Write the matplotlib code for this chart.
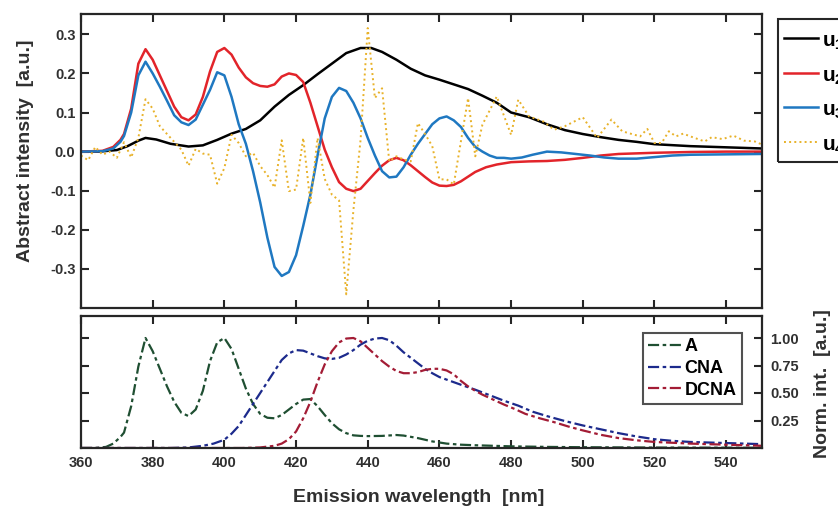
import matplotlib
matplotlib.use("Agg")
import matplotlib.pyplot as plt
from matplotlib.patches import Rectangle

plt.rcParams["font.family"] = ["Liberation Sans", "DejaVu Sans"]
plt.rcParams["font.weight"] = "bold"
plt.rcParams["axes.unicode_minus"] = False
plt.rcParams["mathtext.fontset"] = "custom"
plt.rcParams["mathtext.rm"] = "Liberation Sans:bold"
plt.rcParams["mathtext.bf"] = "Liberation Sans:bold"
plt.rcParams["mathtext.default"] = "rm"

# ---- abstract spectra (SVD components) ----
wl_u1 = [360, 365, 370, 373, 376, 378, 381, 385, 390, 394, 398, 402, 406, 410, 414,
         418, 422, 426, 430, 434, 438, 441, 444, 448, 452, 456, 460, 464, 468, 472,
         476, 480, 485, 490, 495, 500, 505, 510, 515, 520, 530, 540, 550]
u1 = [0.0, 0.0, 0.004, 0.014, 0.028, 0.035, 0.031, 0.02, 0.013, 0.016, 0.03, 0.046,
      0.058, 0.08, 0.115, 0.145, 0.17, 0.198, 0.225, 0.252, 0.265, 0.265, 0.255,
      0.235, 0.212, 0.195, 0.184, 0.172, 0.16, 0.143, 0.125, 0.1, 0.088, 0.07,
      0.055, 0.045, 0.037, 0.03, 0.025, 0.019, 0.014, 0.011, 0.008]

wl_u2 = [360, 366, 369, 371, 372, 374, 376, 378, 380, 382, 384, 386, 388, 390, 392,
         394, 396, 398, 400, 402, 404, 406, 408, 410, 412, 414, 416, 418, 420, 422,
         424, 426, 428, 430, 432, 434, 436, 438, 440, 442, 444, 446, 448, 450, 452,
         454, 456, 458, 460, 462, 464, 466, 468, 470, 473, 476, 480, 485, 490, 495,
         500, 505, 510, 520, 530, 540, 550]
u2 = [0.0, 0.002, 0.012, 0.03, 0.045, 0.11, 0.225, 0.262, 0.235, 0.195, 0.155, 0.115,
      0.088, 0.08, 0.095, 0.14, 0.205, 0.255, 0.265, 0.248, 0.215, 0.19, 0.175,
      0.168, 0.166, 0.172, 0.192, 0.2, 0.196, 0.178, 0.125, 0.065, 0.005, -0.04,
      -0.078, -0.095, -0.101, -0.095, -0.075, -0.055, -0.036, -0.022, -0.016,
      -0.022, -0.035, -0.05, -0.065, -0.079, -0.087, -0.088, -0.085, -0.076,
      -0.064, -0.052, -0.04, -0.033, -0.027, -0.025, -0.024, -0.021, -0.016,
      -0.01, -0.006, -0.003, -0.001, 0.0, 0.0]

wl_u3 = [360, 366, 369, 371, 372, 374, 376, 378, 380, 382, 384, 386, 388, 390, 392,
         394, 396, 398, 400, 402, 404, 406, 408, 410, 412, 414, 416, 418, 420, 422,
         424, 426, 428, 430, 432, 434, 436, 438, 440, 442, 444, 446, 448, 450, 452,
         454, 456, 458, 460, 462, 464, 466, 468, 470, 472, 474, 476, 478, 480, 483,
         486, 490, 494, 498, 502, 506, 510, 515, 520, 525, 530, 540, 550]
u3 = [0.0, 0.001, 0.008, 0.025, 0.04, 0.1, 0.195, 0.23, 0.2, 0.166, 0.13, 0.093,
      0.075, 0.068, 0.082, 0.12, 0.158, 0.203, 0.195, 0.14, 0.07, 0.02, -0.05,
      -0.13, -0.22, -0.295, -0.318, -0.308, -0.265, -0.19, -0.11, -0.01, 0.085,
      0.14, 0.163, 0.155, 0.125, 0.085, 0.035, -0.01, -0.05, -0.066, -0.064,
      -0.04, -0.008, 0.02, 0.045, 0.07, 0.085, 0.09, 0.08, 0.063, 0.035, 0.012,
      0.0, -0.01, -0.016, -0.016, -0.018, -0.015, -0.008, 0.0, -0.002, -0.006,
      -0.01, -0.015, -0.018, -0.018, -0.014, -0.01, -0.008, -0.007, -0.006]

wl_u4 = [360, 362, 364, 366, 368, 370, 372, 374, 376, 378, 380, 382, 384, 386, 388,
         390, 392, 394, 396, 398, 400, 402, 404, 406, 408, 410, 412, 414, 416, 418,
         420, 422, 424, 426, 428, 430, 432, 434, 436, 438, 440, 442, 444, 446, 448,
         450, 452, 454, 456, 458, 460, 462, 464, 468, 470, 472, 476, 480, 482, 485,
         489, 492, 495, 500, 504, 508, 511, 516, 518, 520, 522, 524, 526, 528, 530,
         534, 536, 539, 542, 545, 548, 550]
u4 = [-0.01, -0.022, 0.012, -0.008, 0.0, -0.016, 0.024, -0.015, 0.035, 0.134, 0.11,
      0.065, 0.045, 0.025, 0.005, -0.036, 0.007, -0.005, -0.008, -0.082, -0.042,
      0.043, 0.022, -0.012, -0.003, -0.037, -0.06, -0.092, 0.029, -0.101, -0.097,
      0.035, -0.131, 0.035, -0.07, -0.11, -0.125, -0.365, -0.15, 0.03, 0.316, 0.137,
      0.162, -0.025, -0.012, -0.02, -0.025, 0.073, 0.045, 0.014, -0.071, -0.071,
      -0.084, 0.137, -0.012, 0.069, 0.141, 0.043, 0.133, 0.09, 0.077, 0.056, 0.065,
      0.088, 0.035, 0.082, 0.052, 0.039, 0.058, 0.022, 0.022, 0.052, 0.039, 0.046,
      0.039, 0.026, 0.037, 0.032, 0.041, 0.028, 0.026, 0.018]

# ---- normalised reference emission spectra ----
wl_A = [360, 364, 367, 369, 371, 372, 374, 376, 378, 380, 382, 384, 386, 388, 390,
        392, 394, 396, 398, 400, 402, 404, 406, 408, 410, 412, 414, 416, 418, 420,
        422, 424, 426, 428, 430, 432, 434, 436, 438, 440, 444, 448, 450, 454, 458,
        462, 466, 470, 480, 490, 500, 520, 550]
spec_A = [0.0, 0.0, 0.01, 0.04, 0.1, 0.14, 0.38, 0.74, 1.0, 0.88, 0.72, 0.56, 0.42,
          0.32, 0.29, 0.35, 0.52, 0.79, 0.96, 1.0, 0.9, 0.72, 0.54, 0.4, 0.31, 0.275,
          0.27, 0.3, 0.35, 0.4, 0.44, 0.445, 0.38, 0.3, 0.225, 0.17, 0.135, 0.115,
          0.11, 0.108, 0.11, 0.118, 0.113, 0.09, 0.06, 0.04, 0.03, 0.025, 0.015, 0.01,
          0.007, 0.004, 0.002]

wl_CNA = [360, 385, 390, 394, 397, 400, 402, 404, 406, 408, 410, 412, 414, 416, 418,
          420, 422, 424, 426, 428, 430, 432, 434, 436, 438, 440, 442, 444, 446, 448,
          450, 452, 454, 456, 458, 460, 463, 466, 470, 474, 478, 482, 486, 490, 495,
          500, 505, 510, 515, 520, 525, 530, 540, 550]
spec_CNA = [0.0, 0.0, 0.005, 0.02, 0.04, 0.075, 0.13, 0.2, 0.3, 0.4, 0.5, 0.6, 0.7,
            0.8, 0.86, 0.89, 0.885, 0.86, 0.835, 0.815, 0.81, 0.82, 0.85, 0.89, 0.94,
            0.975, 0.995, 1.0, 0.98, 0.93, 0.87, 0.82, 0.77, 0.72, 0.68, 0.645, 0.61,
            0.575, 0.53, 0.48, 0.43, 0.385, 0.33, 0.29, 0.245, 0.205, 0.17, 0.135,
            0.105, 0.08, 0.065, 0.055, 0.045, 0.035]

wl_DCNA = [360, 405, 410, 414, 416, 418, 420, 422, 424, 426, 428, 430, 432, 434, 436,
           438, 440, 442, 444, 446, 448, 450, 452, 454, 456, 458, 460, 462, 464, 466,
           468, 470, 472, 475, 478, 481, 484, 488, 492, 496, 500, 505, 510, 515, 520,
           530, 540, 550]
spec_DCNA = [0.0, 0.0, 0.005, 0.02, 0.04, 0.08, 0.15, 0.27, 0.42, 0.6, 0.76, 0.88,
             0.96, 0.995, 1.0, 0.97, 0.91, 0.85, 0.79, 0.74, 0.7, 0.68, 0.68, 0.69,
             0.71, 0.72, 0.72, 0.705, 0.67, 0.61, 0.56, 0.52, 0.485, 0.44, 0.395,
             0.355, 0.31, 0.27, 0.235, 0.195, 0.16, 0.12, 0.09, 0.07, 0.055, 0.04,
             0.03, 0.02]

x_ticks = [360, 380, 400, 420, 440, 460, 480, 500, 520, 540]
top_yticks = [-0.3, -0.2, -0.1, 0.0, 0.1, 0.2, 0.3]
bot_yticks = [0.25, 0.5, 0.75, 1.0]

W, H = 838, 507
fig = plt.figure(figsize=(W / 100, H / 100), dpi=100)

ax_top = fig.add_axes([81 / W, 1 - 308 / H, 681 / W, 294 / H])
ax_bot = fig.add_axes([81 / W, 1 - 448 / H, 681 / W, 132 / H])

spine_col = "#262626"
label_col = "#303030"
for ax in (ax_top, ax_bot):
    for s in ax.spines.values():
        s.set_linewidth(1.6)
        s.set_color(spine_col)
    ax.tick_params(direction="in", length=6, width=1.5, top=True, right=True,
                   colors=spine_col, labelcolor=label_col, labelsize=10.5, pad=4)
    ax.set_xlim(360, 550)
    ax.set_xticks(x_ticks)

# top panel
ax_top.plot(wl_u1, u1, color="black", lw=1.8, label=r"u$_1$")
ax_top.plot(wl_u2, u2, color="#e2242a", lw=1.8, label=r"u$_2$")
ax_top.plot(wl_u3, u3, color="#1f78c1", lw=1.8, label=r"u$_3$")
ax_top.plot(wl_u4, u4, color="#e8b22a", lw=1.4, ls=":", label=r"u$_4$")
ax_top.set_ylim(-0.4, 0.352)
ax_top.set_yticks(top_yticks)
ax_top.set_yticklabels([f"{v:.1f}" for v in top_yticks])
ax_top.tick_params(labelbottom=False)

# bottom panel
dashdot = (0, (5, 1.6, 1.6, 1.6))
ax_bot.plot(wl_A, spec_A, color="#1f4f32", lw=1.6, ls=dashdot, label="A")
ax_bot.plot(wl_CNA, spec_CNA, color="#1c2a8c", lw=1.6, ls=dashdot, label="CNA")
ax_bot.plot(wl_DCNA, spec_DCNA, color="#a31c35", lw=1.6, ls=dashdot, label="DCNA")
ax_bot.set_ylim(0, 1.2)
ax_bot.set_yticks(bot_yticks)
ax_bot.set_yticklabels([f"{v:.2f}" for v in bot_yticks])
ax_bot.tick_params(labelleft=False, labelright=True, pad=6)
ax_bot.tick_params(axis="x", pad=6)

# component legend sits in the right margin; its box runs past the figure edge
fig.legend(*ax_top.get_legend_handles_labels(), loc="upper left",
           bbox_to_anchor=(778 / W, 1 - 23 / H), frameon=False, fontsize=15,
           handlelength=1.6, handleheight=1.2, handletextpad=0.2,
           labelspacing=0.55, borderpad=0.3, borderaxespad=0)
fig.add_artist(Rectangle((778 / W, 1 - 162 / H), 80 / W, 143 / H,
                         transform=fig.transFigure, fill=False,
                         edgecolor=spine_col, linewidth=1.5))

leg_bot = ax_bot.legend(loc="upper left", bbox_to_anchor=(643 / W, 1 - 333 / H),
                        bbox_transform=fig.transFigure, frameon=True,
                        fancybox=False, edgecolor=spine_col, fontsize=13,
                        handlelength=1.8, handletextpad=0.2, labelspacing=0.26,
                        borderpad=0.3, borderaxespad=0)
leg_bot.get_frame().set_linewidth(1.5)

fig.text(25 / W, 1 - 151 / H, "Abstract intensity  [a.u.]", rotation=90,
         ha="center", va="center", fontsize=14, color=label_col)
fig.text(822 / W, 1 - 384 / H, "Norm. int.  [a.u.]", rotation=90,
         ha="center", va="center", fontsize=14, color=label_col)
fig.text(419 / W, 1 - 497 / H, "Emission wavelength  [nm]", ha="center",
         va="center", fontsize=14, color=label_col)

fig.savefig("out.png", dpi=100)
